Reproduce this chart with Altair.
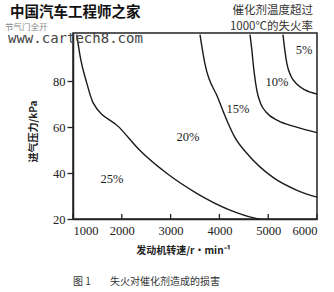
import altair as alt
import pandas as pd

# curve data (rpm, kPa)
rpm_25_20 = [1076, 1158, 1281, 1410, 1949, 2373, 2920, 3535, 4217, 4730, 4832]
kpa_25_20 = [100.3, 89.5, 79.3, 70.7, 59.9, 49.8, 39.9, 31.2, 23.9, 20.4, 20.0]

rpm_20_15 = [3602, 3705, 3971, 4156, 4320, 4566, 5098, 5590, 6000]
kpa_20_15 = [100.3, 87.4, 72.7, 62.8, 55.4, 48.5, 38.1, 32.5, 29.5]

rpm_15_10 = [4627, 4668, 4709, 4770, 4840, 4960, 5201, 5549, 6000]
kpa_15_10 = [100.3, 93.0, 84.4, 75.7, 70.5, 66.5, 62.8, 60.2, 57.6]

rpm_10_5 = [5303, 5344, 5385, 5467, 5590, 5754, 6000]
kpa_10_5 = [100.3, 93.0, 87.4, 82.2, 78.7, 76.2, 74.4]

region_labels = ["5%", "10%", "15%", "20%", "25%"]
label_rpm = [5734, 5180, 4381, 3357, 1799]
label_kpa = [93.4, 79.6, 68.0, 55.9, 37.3]

x_ticks = [1000, 2000, 3000, 4000, 5000, 6000]
y_ticks = [20, 40, 60, 80]

rows = []
for name, rs, ks in [("a", rpm_25_20, kpa_25_20), ("b", rpm_20_15, kpa_20_15),
                     ("c", rpm_15_10, kpa_15_10), ("d", rpm_10_5, kpa_10_5)]:
    for i, (r, k) in enumerate(zip(rs, ks)):
        rows.append({"curve": name, "rpm": r, "kpa": k, "order": i})
curves = pd.DataFrame(rows)

W, H = 244, 186
serif = "Liberation Serif, Times New Roman, serif"
cjk = "Noto Sans CJK SC"

xscale = alt.Scale(domain=[1000, 6000], nice=False)
yscale = alt.Scale(domain=[20, 101], nice=False)

lines = alt.Chart(curves).mark_line(
    interpolate="monotone", color="#1a1a1a", strokeWidth=1.4
).encode(
    x=alt.X("rpm:Q", scale=xscale, axis=alt.Axis(
        values=x_ticks, title="发动机转速/r·min⁻¹", format="d",
        labelFont=serif, labelFontSize=12.5, labelColor="#222", tickSize=0,
        labelPadding=5, domainColor="#222", domainWidth=1.5, grid=False,
        titleFont=cjk, titleFontSize=10, titleFontWeight="bold", titleColor="#222",
        titleX=110, titleY=31, titleBaseline="middle")),
    y=alt.Y("kpa:Q", scale=yscale, axis=alt.Axis(
        values=y_ticks, title="进气压力/kPa",
        labelFont=serif, labelFontSize=12.5, labelColor="#222", tickSize=6,
        tickColor="#222", tickWidth=1.3, labelPadding=2,
        domainColor="#222", domainWidth=1.5, grid=False,
        titleFont=cjk, titleFontSize=10, titleFontWeight="bold", titleColor="#222",
        titleX=-40, titleY=98, titleBaseline="middle")),
    detail="curve:N",
    order="order:Q",
)

tick_df = pd.DataFrame({"rpm": x_ticks})
xticks = alt.Chart(tick_df).mark_rule(color="#222", strokeWidth=1.3).encode(
    x="rpm:Q", y=alt.value(H), y2=alt.value(H - 5)
)

lab_df = pd.DataFrame({"rpm": label_rpm, "kpa": label_kpa, "label": region_labels})
labels = alt.Chart(lab_df).mark_text(
    font=serif, fontSize=12.5, color="#222"
).encode(x="rpm:Q", y="kpa:Q", text="label:N")


def note(txt, x, y, align="left", **kw):
    return alt.Chart(pd.DataFrame({"t": [txt]})).mark_text(
        align=align, baseline="middle", **kw
    ).encode(text="t:N", x=alt.value(x), y=alt.value(y))


notes = [
    note("节气门全开", -68, -6.5, font=cjk, fontSize=8.5, color="#888"),
    note("催化剂温度超过", 240, -22, align="right", font=cjk, fontSize=11.5, color="#333"),
    note("1000℃的失火率", 240, -6, align="right", font=cjk, fontSize=11.5, color="#333"),
    note("中国汽车工程师之家", -63, -20, font=cjk, fontSize=14.5, color="#111", fontWeight="bold"),
    note("www.cartech8.com", -65, 6, font="DejaVu Sans Mono", fontSize=14, color="#444"),
    note("图 1", 0, 249, font=cjk, fontSize=10, color="#333"),
    note("失火对催化剂造成的损害", 37, 249, font=cjk, fontSize=10, color="#333"),
]

chart = alt.layer(lines, xticks, labels, *notes).properties(
    width=W, height=H,
    autosize=alt.AutoSizeParams(type="none"),
    padding={"left": 73, "top": 33, "right": 17, "bottom": 73},
    background="white",
).configure_view(stroke="#222", strokeWidth=1.5)

chart.save("out.html", embed_options={"renderer": "svg", "actions": False})
